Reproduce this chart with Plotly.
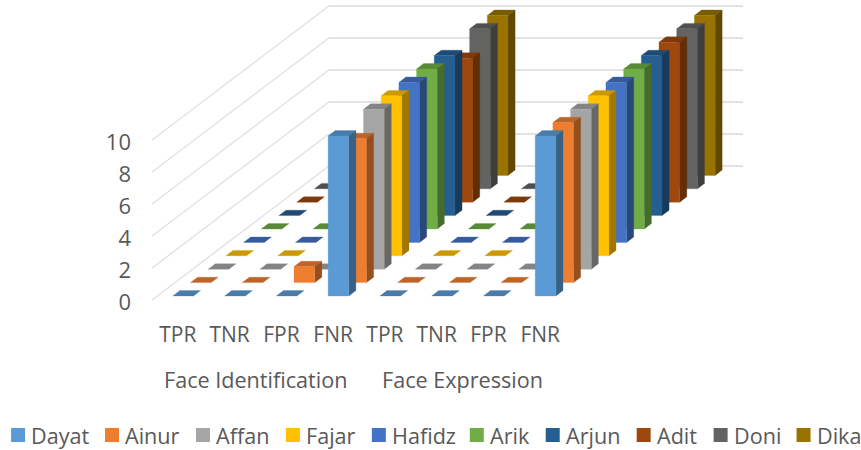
import plotly.graph_objects as go

categories = ["TPR", "TNR", "FPR", "FNR", "TPR", "TNR", "FPR", "FNR"]
groups = ["Face Identification", "Face Expression"]
dayat = [0, 0, 0, 10, 0, 0, 0, 10]
ainur = [0, 0, 1, 9, 0, 0, 0, 10]
affan = [0, 0, 0, 10, 0, 0, 0, 10]
fajar = [0, 0, 0, 10, 0, 0, 0, 10]
hafidz = [0, 0, 0, 10, 0, 0, 0, 10]
arik = [0, 0, 0, 10, 0, 0, 0, 10]
arjun = [0, 0, 0, 10, 0, 0, 0, 10]
adit = [0, 0, 1, 9, 0, 0, 0, 10]
doni = [0, 0, 0, 10, 0, 0, 0, 10]
dika = [0, 0, 0, 10, 0, 0, 0, 10]
names = ["Dayat", "Ainur", "Affan", "Fajar", "Hafidz", "Arik", "Arjun", "Adit", "Doni", "Dika"]
values = [dayat, ainur, affan, fajar, hafidz, arik, arjun, adit, doni, dika]
colors = ["#5B9BD5", "#ED7D31", "#A5A5A5", "#FFC000", "#4472C4",
          "#70AD47", "#255E91", "#9E480E", "#636363", "#997300"]
value_ticks = [0, 2, 4, 6, 8, 10]

# layout in pixels
W, H = 861, 450
PL, PB0, PT = 152, 300, 1
PX_CAT, PX_VAL = 51.8, 16.0
DX, DY = 17.7, 13.4           # pixel shift of one series step into depth
K, M = DX / PX_CAT, DY / PX_VAL
NC, NS = len(categories), len(names)
plot_w = (NC + NS * K) * PX_CAT
plot_h = PB0 - PT
INK = "#595959"
FONT = "Open Sans, Segoe UI, sans-serif"


def proj(c, d, v):
    return c + K * d, v + M * d


def shade(col, f):
    r, g, b = (int(col[i:i + 2], 16) for i in (1, 3, 5))
    return f"rgb({int(r * f)},{int(g * f)},{int(b * f)})"


def poly(xs, ys, pts):
    for c, d, v in pts + pts[:1]:
        x, y = proj(c, d, v)
        xs.append(x)
        ys.append(y)
    xs.append(None)
    ys.append(None)


fig = go.Figure()

# walls
for v in range(0, 11, 2):
    x0, y0 = proj(0, 0, v)
    x1, y1 = proj(0, NS, v)
    x2, y2 = proj(NC, NS, v)
    fig.add_trace(go.Scatter(x=[x0, x1], y=[y0, y1], mode="lines", cliponaxis=False,
                             line=dict(color="#dfdfdf", width=1.3), hoverinfo="skip", showlegend=False))
    fig.add_trace(go.Scatter(x=[x1, x2], y=[y1, y2], mode="lines", cliponaxis=False,
                             line=dict(color="#e2e2e2", width=2), hoverinfo="skip", showlegend=False))

# bars, back to front
for s in range(NS - 1, -1, -1):
    top, side, front = ([], []), ([], []), ([], [])
    for i, v in enumerate(values[s]):
        c0, c1, d0, d1 = i + 0.3, i + 0.7, s + 0.3, s + 0.7
        poly(*top, [(c0, d0, v), (c1, d0, v), (c1, d1, v), (c0, d1, v)])
        if v > 0:
            poly(*side, [(c1, d0, 0), (c1, d1, 0), (c1, d1, v), (c1, d0, v)])
            poly(*front, [(c0, d0, 0), (c1, d0, 0), (c1, d0, v), (c0, d0, v)])
    for (xy, f) in ((top, 0.8), (side, 0.63), (front, 1.0)):
        col = shade(colors[s], f)
        fig.add_trace(go.Scatter(x=xy[0], y=xy[1], mode="lines", fill="toself", fillcolor=col,
                                 line=dict(color=col, width=0.3), cliponaxis=False,
                                 name=names[s], showlegend=False, hoverinfo="skip"))

fig.update_xaxes(range=[0, NC + NS * K], tickmode="array",
                 tickvals=[i + 0.5 for i in range(NC)], ticktext=categories,
                 showgrid=False, zeroline=False, showline=False, ticks="",
                 tickfont=dict(family=FONT, size=21, color=INK), ticklabelstandoff=20)
fig.update_yaxes(range=[0, plot_h / PX_VAL], tickmode="array", tickvals=value_ticks,
                 showgrid=False, zeroline=False, showline=False, ticks="",
                 tickfont=dict(family=FONT, size=22, color=INK), ticklabelstandoff=20,
                 ticklabelshift=2)


def px(x):
    return (x - PL) / plot_w


def py(y):
    return (PB0 - y) / plot_h


annotations = []
for g, name in enumerate(groups):
    annotations.append(dict(x=2 + 4 * g, xref="x", y=py(379), yref="paper", text=name, showarrow=False,
                            xanchor="center", yanchor="middle", font=dict(family=FONT, size=21.6, color=INK)))

legend_left = [11, 105, 196, 286, 372, 470, 546, 637, 714, 797]
shapes = []
for n, x, col in zip(names, legend_left, colors):
    shapes.append(dict(type="rect", xref="paper", yref="paper", x0=px(x), x1=px(x + 14),
                       y0=py(442), y1=py(428), fillcolor=col, line=dict(width=0)))
    annotations.append(dict(x=px(x + 18), xref="paper", y=py(435), yref="paper", text=n, showarrow=False,
                            xanchor="left", yanchor="middle",
                            font=dict(family=FONT, size=21.6, color=INK)))

fig.update_layout(width=W, height=H, autosize=False, paper_bgcolor="white", plot_bgcolor="white",
                  margin=dict(l=PL, r=W - PL - plot_w, t=PT, b=H - PB0, pad=0),
                  showlegend=False, annotations=annotations, shapes=shapes)
fig.write_html("out.html", config={"responsive": False, "displayModeBar": False},
               post_script="document.body.style.margin='0';document.documentElement.style.overflow='hidden';")
